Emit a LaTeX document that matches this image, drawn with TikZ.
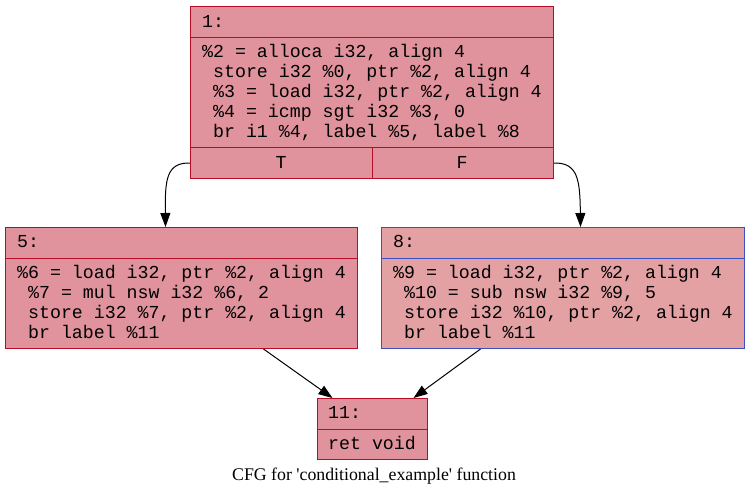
\documentclass[tikz,border=0pt]{standalone}
\usepackage{fontspec}
\setmainfont{Liberation Serif}
\newfontfamily\codefam{Liberation Mono}
\usetikzlibrary{arrows.meta}
\definecolor{fillA}{RGB}{224,147,157}
\definecolor{fillB}{RGB}{227,161,164}
\definecolor{bordR}{RGB}{183,13,40}
\definecolor{bordB}{RGB}{61,80,195}
\tikzset{
  recpart/.style={draw=bordR, fill=fillA, line width=1pt, inner sep=0pt, anchor=north west},
  recblue/.style={recpart, draw=bordB, fill=fillB},
  code/.style={font=\codefam\fontsize{18.25}{20}\selectfont, inner sep=0pt, anchor=base west},
  codec/.style={code, anchor=base},
  edge/.style={draw=black, line width=1pt, -{Triangle[length=14pt,width=10pt]}},
}
\begin{document}
\begin{tikzpicture}[x=1pt,y=-1pt]
\useasboundingbox (0,0) rectangle (749,496);
% node 1
\node[recpart, minimum width=363pt, minimum height=31pt] (n1h) at (190,6) {};
\node[recpart, minimum width=363pt, minimum height=110pt] (n1b) at (190,37) {};
\node[recpart, minimum width=182pt, minimum height=31pt] (n1t) at (190,147) {};
\node[recpart, minimum width=181pt, minimum height=31pt] (n1f) at (372,147) {};
\node[code] (t1h) at (202,27) {1:};
\node[code] (t1a) at (202,57) {\%2 = alloca i32, align 4};
\node[code] (t1b) at (202,77) {\ store i32 \%0, ptr \%2, align 4};
\node[code] (t1c) at (202,97) {\ \%3 = load i32, ptr \%2, align 4};
\node[code] (t1d) at (202,117) {\ \%4 = icmp sgt i32 \%3, 0};
\node[code] (t1e) at (202,137) {\ br i1 \%4, label \%5, label \%8};
\node[codec] (t1t) at (281,168) {T};
\node[codec] (t1f) at (462,168) {F};
% node 5
\node[recpart, minimum width=352pt, minimum height=31pt] (n5h) at (5,227) {};
\node[recpart, minimum width=352pt, minimum height=90pt] (n5b) at (5,258) {};
\node[code] (t5h) at (17,247) {5:};
\node[code] (t5a) at (17,278) {\%6 = load i32, ptr \%2, align 4};
\node[code] (t5b) at (17,298) {\ \%7 = mul nsw i32 \%6, 2};
\node[code] (t5c) at (17,318) {\ store i32 \%7, ptr \%2, align 4};
\node[code] (t5d) at (17,338) {\ br label \%11};
% node 8
\node[recblue, minimum width=363pt, minimum height=31pt] (n8h) at (381,227) {};
\node[recblue, minimum width=363pt, minimum height=90pt] (n8b) at (381,258) {};
\node[code] (t8h) at (393,247) {8:};
\node[code] (t8a) at (393,278) {\%9 = load i32, ptr \%2, align 4};
\node[code] (t8b) at (393,298) {\ \%10 = sub nsw i32 \%9, 5};
\node[code] (t8c) at (393,318) {\ store i32 \%10, ptr \%2, align 4};
\node[code] (t8d) at (393,338) {\ br label \%11};
% node 11
\node[recpart, minimum width=110pt, minimum height=31pt] (n11h) at (317,398) {};
\node[recpart, minimum width=110pt, minimum height=30pt] (n11b) at (317,429) {};
\node[code] (t11h) at (328,418) {11:};
\node[code] (t11a) at (328,449) {ret void};
% caption
\node[font=\fontsize{17.8}{20}\selectfont, inner sep=0pt, anchor=base] (cap) at (374,480) {CFG for \textquotesingle conditional\_example\textquotesingle\ function};
% edges
\draw[edge] (n1t.west) .. controls (166,162.5) and (165,180) .. ([xshift=-16pt]n5h.north);
\draw[edge] (n1f.east) .. controls (578,162.5) and (580,180) .. ([xshift=17.5pt]n8h.north);
\draw[edge] ([xshift=82pt]n5b.south) -- ([xshift=-40pt]n11h.north);
\draw[edge] ([xshift=-82.5pt]n8b.south) -- ([xshift=41pt]n11h.north);
\end{tikzpicture}
\end{document}
